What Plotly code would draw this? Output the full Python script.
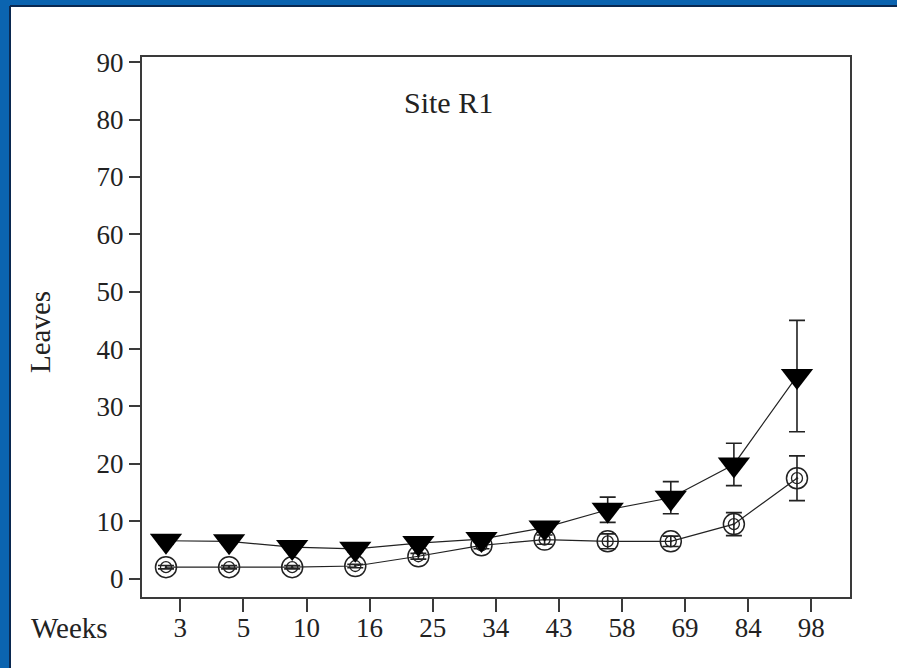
import plotly.graph_objects as go

# ---- data ----
weeks = ["3", "5", "10", "16", "25", "34", "43", "58", "69", "84", "98"]
leaves_filled = [6.6, 6.5, 5.5, 5.2, 6.2, 6.9, 8.9, 12.0, 14.1, 19.9, 35.3]
leaves_filled_err = [0.5, 0.5, 0.5, 0.5, 0.5, 0.6, 0.8, 2.2, 2.8, 3.7, 9.7]
leaves_open = [2.0, 2.0, 2.0, 2.2, 3.9, 5.8, 6.8, 6.5, 6.5, 9.5, 17.5]
leaves_open_err = [0.3, 0.3, 0.3, 0.3, 0.5, 0.6, 0.8, 1.3, 0.9, 2.0, 3.9]
y_ticks = [0, 10, 20, 30, 40, 50, 60, 70, 80, 90]

W, H = 897, 668
L, R, T, B = 142, 47, 57, 71
PW, PH = W - L - R, H - T - B

def px(xp):
    return (xp - L) / PW

def py(yp):
    return (H - B - yp) / PH

FONT = "Liberation Serif"
INK = "#222222"
AX = "#3a3a3a"

idx = list(range(len(weeks)))
tick_shift = 0.227

fig = go.Figure()

# open (double circle) series
fig.add_trace(go.Scatter(
    x=idx, y=leaves_open, mode="lines+markers",
    line=dict(color=INK, width=1.2),
    marker=dict(symbol="circle-open-dot", size=21, color=INK,
                line=dict(color=INK, width=1.5)),
    error_y=dict(type="data", array=leaves_open_err, visible=True,
                 color=INK, thickness=1.6, width=8),
    showlegend=False, hoverinfo="skip"))
fig.add_trace(go.Scatter(
    x=idx, y=leaves_open, mode="markers",
    marker=dict(symbol="circle-open", size=11, color=INK,
                line=dict(color=INK, width=1.3)),
    showlegend=False, hoverinfo="skip"))

# filled triangle series
fig.add_trace(go.Scatter(
    x=idx, y=leaves_filled, mode="lines+markers",
    line=dict(color=INK, width=1.2),
    marker=dict(symbol="triangle-down", size=28, color="#000000",
                line=dict(width=0)),
    error_y=dict(type="data", array=leaves_filled_err, visible=True,
                 color=INK, thickness=1.6, width=8),
    showlegend=False, hoverinfo="skip"))

fig.update_xaxes(
    range=[-0.38, 10.84],
    tickmode="array",
    tickvals=[i + tick_shift for i in idx],
    ticktext=weeks,
    ticks="outside", ticklen=13, tickwidth=1.6, tickcolor=AX,
    ticklabelstandoff=-7,
    showline=True, linecolor=AX, linewidth=2, mirror=True,
    showgrid=False, zeroline=False,
    tickfont=dict(family=FONT, size=27, color=INK),
)
fig.update_yaxes(
    range=[-3.2, 90.9],
    tickmode="array", tickvals=y_ticks,
    ticks="outside", ticklen=11, tickwidth=1.6, tickcolor=AX,
    showline=True, linecolor=AX, linewidth=2, mirror=True,
    showgrid=False, zeroline=False,
    tickfont=dict(family=FONT, size=27, color=INK),
)

annotations = [
    dict(text="Site R1", x=px(448), y=py(103), xref="paper", yref="paper",
         xanchor="center", yanchor="middle", showarrow=False,
         font=dict(family=FONT, size=30, color=INK)),
    dict(text="Weeks", x=px(69), y=py(628), xref="paper", yref="paper",
         xanchor="center", yanchor="middle", showarrow=False,
         font=dict(family=FONT, size=29, color=INK)),
    dict(text="Leaves", x=px(40), y=py(332), xref="paper", yref="paper",
         xanchor="center", yanchor="middle", showarrow=False, textangle=-90,
         font=dict(family=FONT, size=29, color=INK)),
]

BLUE = "#0b64b0"
NAVY = "#0a2850"
shapes = [
    dict(type="rect", xref="paper", yref="paper", layer="below",
         x0=px(0), x1=px(11), y0=py(H), y1=py(0),
         fillcolor=BLUE, line=dict(width=0)),
    dict(type="rect", xref="paper", yref="paper", layer="below",
         x0=px(0), x1=px(W), y0=py(6), y1=py(0),
         fillcolor=BLUE, line=dict(width=0)),
    dict(type="line", xref="paper", yref="paper",
         x0=px(10), x1=px(W), y0=py(6), y1=py(6),
         line=dict(color=NAVY, width=2)),
    dict(type="line", xref="paper", yref="paper",
         x0=px(10), x1=px(10), y0=py(6), y1=py(H),
         line=dict(color=NAVY, width=2)),
]

fig.update_layout(
    width=W, height=H,
    margin=dict(l=L, r=R, t=T, b=B, pad=0),
    paper_bgcolor="white", plot_bgcolor="white",
    annotations=annotations, shapes=shapes,
    showlegend=False,
)

fig.write_html(
    "out.html",
    config={"displayModeBar": False},
    post_script="document.body.style.margin='0';document.body.style.overflow='hidden';",
)
